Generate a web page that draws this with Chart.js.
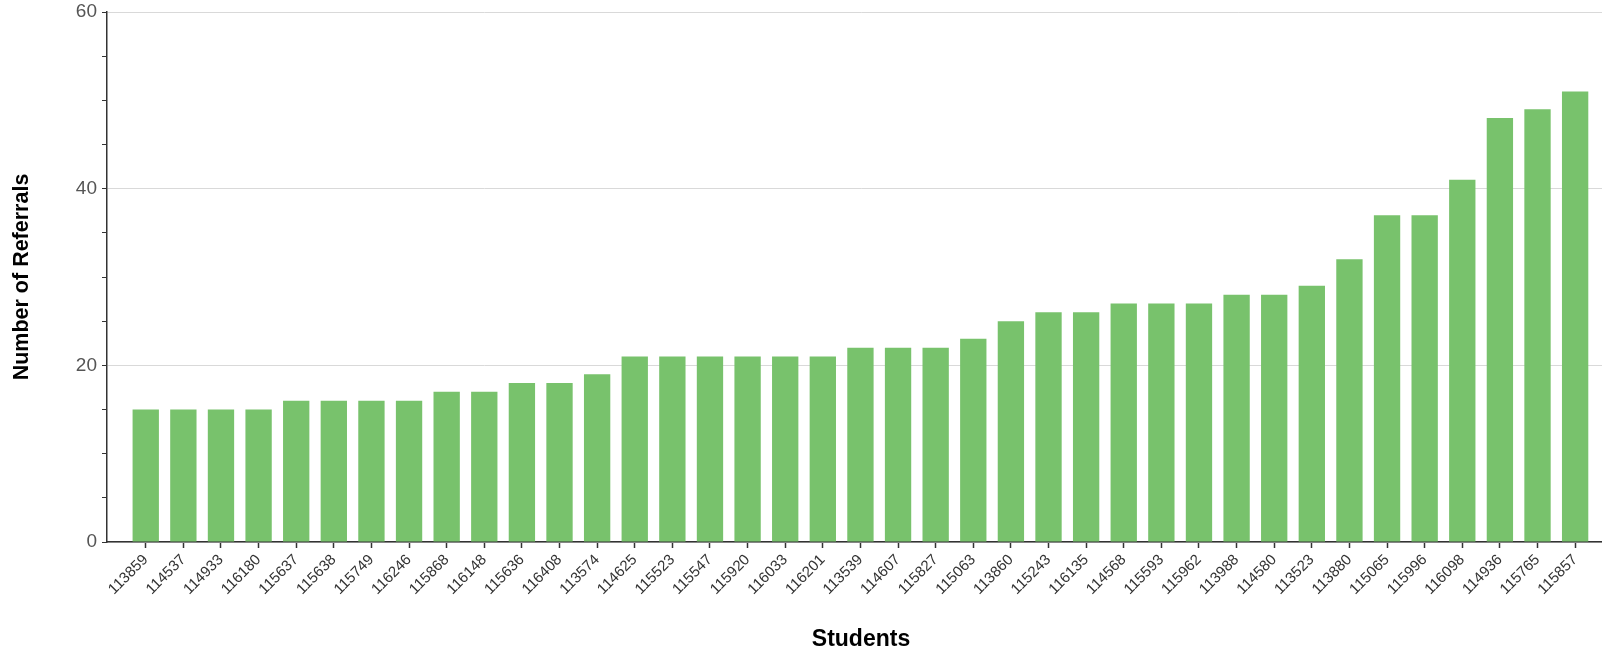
<!DOCTYPE html>
<html>
<head>
<meta charset="utf-8">
<script src="https://cdn.jsdelivr.net/npm/chart.js@4"></script>
<style>
  html, body { margin: 0; padding: 0; background: #fff; overflow: hidden; }
  #wrap { position: relative; width: 1615px; height: 653px; }
</style>
</head>
<body>
<div id="wrap"><canvas id="referralChart"></canvas></div>
<script>
// Students sorted by referral count
const students = [
  "113859", "114537", "114933", "116180", "115637", "115638", "115749", "116246",
  "115868", "116148", "115636", "116408", "113574", "114625", "115523", "115547",
  "115920", "116033", "116201", "113539", "114607", "115827", "115063", "113860",
  "115243", "116135", "114568", "115593", "115962", "113988", "114580", "113523",
  "113880", "115065", "115996", "116098", "114936", "115765", "115857"
];
const referrals = [
  15, 15, 15, 15, 16, 16, 16, 16,
  17, 17, 18, 18, 19, 21, 21, 21,
  21, 21, 21, 22, 22, 22, 23, 25,
  26, 26, 27, 27, 27, 28, 28, 29,
  32, 37, 37, 41, 48, 49, 51
];
const yTicks = [0, 20, 40, 60];

const barColor = "rgb(120, 194, 108)";
const axisColor = "#333";

const ctx = document.getElementById("referralChart").getContext("2d");
new Chart(ctx, {
  type: "bar",
  data: {
    datasets: [
      {
        label: "Number of Referrals",
        data: referrals.map((v, i) => ({ x: i, y: v })),
        backgroundColor: barColor,
        borderWidth: 0,
        barPercentage: 0.7,
        categoryPercentage: 1.0,
      },
    ],
  },
  options: {
    responsive: true,
    maintainAspectRatio: false,
    animation: false,
    layout: { padding: { top: 12, left: 0, right: 0, bottom: 0 } },
    plugins: {
      legend: { display: false },
      tooltip: { enabled: false },
    },
    scales: {
      x: {
        type: "linear",
        min: -1.03,
        max: 39.06,
        bounds: "data",
        offset: false,
        afterBuildTicks: (scale) => {
          scale.ticks = students.map((s, i) => ({ value: i }));
        },
        afterFit: (scale) => {
          scale.height = 111;
        },
        ticks: {
          stepSize: 1,
          autoSkip: false,
          maxRotation: 45,
          minRotation: 45,
          color: "#333",
          padding: 3,
          font: { family: "'Liberation Sans', Arial, sans-serif", size: 15 },
          callback: (value) => students[value] ?? "",
        },
        grid: {
          offset: false,
          drawOnChartArea: false,
          drawTicks: true,
          tickLength: 6,
          tickColor: axisColor,
          tickWidth: 1.5,
        },
        border: { color: axisColor, width: 1.5 },
        title: {
          display: true,
          text: "Students",
          color: "#000",
          font: { family: "'Liberation Sans', Arial, sans-serif", size: 23, weight: "bold" },
          padding: { top: -3, bottom: 0 },
        },
      },
      y: {
        min: 0,
        max: 60,
        afterFit: (scale) => {
          scale.width = 107;
          scale.paddingTop = 0;
          scale.paddingBottom = 0;
        },
        ticks: {
          stepSize: 5,
          color: "#555",
          padding: 5,
          font: { family: "'Liberation Sans', Arial, sans-serif", size: 19 },
          callback: (value) => (yTicks.includes(value) ? value : ""),
        },
        grid: {
          drawTicks: true,
          tickLength: 5,
          tickColor: axisColor,
          color: (c) => (c.tick && yTicks.includes(c.tick.value) ? "#d9d9d9" : "rgba(0,0,0,0)"),
        },
        border: { color: axisColor, width: 1.5 },
        title: {
          display: true,
          text: "Number of Referrals",
          color: "#000",
          font: { family: "'Liberation Sans', Arial, sans-serif", size: 21.5, weight: "bold" },
          padding: { top: 9, bottom: 0 },
        },
      },
    },
  },
});
</script>
</body>
</html>
